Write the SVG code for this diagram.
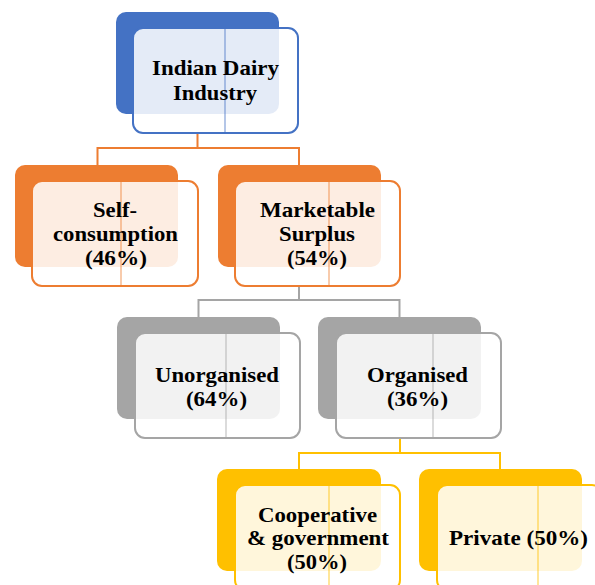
<svg xmlns="http://www.w3.org/2000/svg" width="595" height="585" viewBox="0 0 595 585">
<style>
.back{stroke:none}
.front{fill:#ffffff;fill-opacity:0.86;stroke-width:2}
.seam{stroke-width:1;stroke-opacity:0.8}
.t{font-family:"Liberation Serif","Times New Roman",serif;font-weight:bold;font-size:22px;fill:#000}
.con{fill:none;stroke-width:2}
</style>
<rect width="595" height="585" fill="#ffffff"/>
<g id="connectors">
<path class="con" stroke="#ed7d31" d="M197.5,133 V148 M97.5,148 H299 M97.5,147 V165 M299,147 V165"/>
<path class="con" stroke="#a5a5a5" d="M299,286 V300 M198.5,300 H399.5 M198.5,299 V317 M399.5,299 V317"/>
<path class="con" stroke="#ffc000" d="M400,438 V453 M299,453 H500 M299,452 V469 M500,452 V469"/>
</g>
<g id="n-indian-dairy">
<rect class="back" fill="#4472c4" x="116" y="12" width="163" height="102" rx="10"/>
<rect class="front" stroke="#4472c4" x="133" y="28" width="165" height="105" rx="10"/>
<line class="seam" stroke="#4472c4" x1="225" y1="28" x2="225" y2="133"/>
<text class="t" x="215.5" y="75" text-anchor="middle" textLength="127" lengthAdjust="spacingAndGlyphs">Indian Dairy</text>
<text class="t" x="215" y="100" text-anchor="middle" textLength="84" lengthAdjust="spacingAndGlyphs">Industry</text>
</g>
<g id="n-self">
<rect class="back" fill="#ed7d31" x="15" y="165" width="163" height="102" rx="10"/>
<rect class="front" stroke="#ed7d31" x="32" y="181" width="166" height="105" rx="10"/>
<line class="seam" stroke="#ed7d31" x1="121" y1="181" x2="121" y2="286"/>
<text class="t" x="115" y="217" text-anchor="middle" textLength="44" lengthAdjust="spacingAndGlyphs">Self-</text>
<text class="t" x="115.5" y="241" text-anchor="middle" textLength="125" lengthAdjust="spacingAndGlyphs">consumption</text>
<text class="t" x="116" y="265" text-anchor="middle" textLength="62" lengthAdjust="spacingAndGlyphs">(46%)</text>
</g>
<g id="n-marketable">
<rect class="back" fill="#ed7d31" x="218" y="165" width="163" height="102" rx="10"/>
<rect class="front" stroke="#ed7d31" x="235" y="181" width="165" height="105" rx="10"/>
<line class="seam" stroke="#ed7d31" x1="329" y1="181" x2="329" y2="286"/>
<text class="t" x="317.5" y="217" text-anchor="middle" textLength="115" lengthAdjust="spacingAndGlyphs">Marketable</text>
<text class="t" x="317" y="241" text-anchor="middle" textLength="76" lengthAdjust="spacingAndGlyphs">Surplus</text>
<text class="t" x="317" y="265" text-anchor="middle" textLength="60" lengthAdjust="spacingAndGlyphs">(54%)</text>
</g>
<g id="n-unorganised">
<rect class="back" fill="#a5a5a5" x="117" y="317" width="163" height="102" rx="10"/>
<rect class="front" stroke="#a5a5a5" x="135" y="333" width="165" height="105" rx="10"/>
<line class="seam" stroke="#a5a5a5" x1="226" y1="333" x2="226" y2="438"/>
<text class="t" x="217" y="382" text-anchor="middle" textLength="124" lengthAdjust="spacingAndGlyphs">Unorganised</text>
<text class="t" x="216.5" y="406" text-anchor="middle" textLength="61" lengthAdjust="spacingAndGlyphs">(64%)</text>
</g>
<g id="n-organised">
<rect class="back" fill="#a5a5a5" x="318" y="317" width="163" height="102" rx="10"/>
<rect class="front" stroke="#a5a5a5" x="336" y="333" width="165" height="105" rx="10"/>
<line class="seam" stroke="#a5a5a5" x1="433" y1="333" x2="433" y2="438"/>
<text class="t" x="417.5" y="382" text-anchor="middle" textLength="101" lengthAdjust="spacingAndGlyphs">Organised</text>
<text class="t" x="417.5" y="406" text-anchor="middle" textLength="61" lengthAdjust="spacingAndGlyphs">(36%)</text>
</g>
<g id="n-cooperative">
<rect class="back" fill="#ffc000" x="217" y="469" width="164" height="102" rx="10"/>
<rect class="front" stroke="#ffc000" x="235" y="485" width="165" height="105" rx="10"/>
<line class="seam" stroke="#ffc000" x1="329" y1="485" x2="329" y2="590"/>
<text class="t" x="317.5" y="522" text-anchor="middle" textLength="119" lengthAdjust="spacingAndGlyphs">Cooperative</text>
<text class="t" x="318" y="545" text-anchor="middle" textLength="142" lengthAdjust="spacingAndGlyphs">&amp; government</text>
<text class="t" x="317" y="569" text-anchor="middle" textLength="60" lengthAdjust="spacingAndGlyphs">(50%)</text>
</g>
<g id="n-private">
<rect class="back" fill="#ffc000" x="419" y="469" width="163" height="102" rx="10"/>
<rect class="front" stroke="#ffc000" x="437" y="485" width="165" height="105" rx="10"/>
<line class="seam" stroke="#ffc000" x1="538" y1="485" x2="538" y2="590"/>
<text class="t" x="518.5" y="545" text-anchor="middle" textLength="139" lengthAdjust="spacingAndGlyphs">Private (50%)</text>
</g>
</svg>
